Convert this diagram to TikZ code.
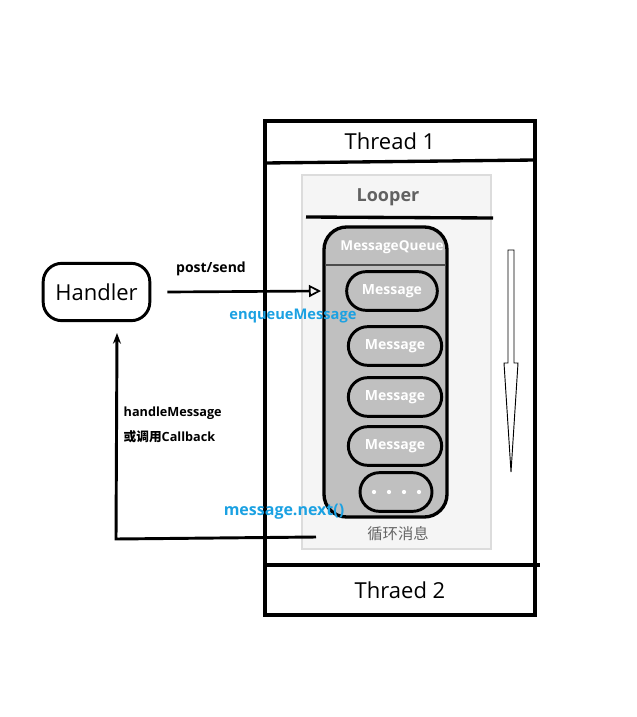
\documentclass[tikz,border=0pt]{standalone}
\usepackage{fontspec}
\setmainfont{Open Sans}
\newfontfamily\cjk{Noto Sans CJK SC}
\usetikzlibrary{arrows.meta}
\definecolor{linkblue}{HTML}{1BA1E2}
\definecolor{qgray}{HTML}{C0C0C0}
\definecolor{lbg}{HTML}{F5F5F5}
\definecolor{lborder}{HTML}{DCDCDC}
\tikzset{
  thick line/.style={line width=2.5pt},
  msgbox/.style={draw, line width=2.2pt, fill=qgray, rounded corners=14.5pt, minimum width=68pt, minimum height=29pt, inner sep=0pt, text=white, font=\bfseries\fontsize{10.5}{12}\selectfont},
  blue label/.style={text=linkblue, font=\bfseries\fontsize{11}{13}\selectfont},
  black label/.style={font=\bfseries\fontsize{9.5}{11}\selectfont},
}
\begin{document}
\begin{tikzpicture}[x=0.75pt,y=-0.75pt]
\useasboundingbox (0,0) rectangle (636,717);
% Thread box
\draw[thick line] (265,121) rectangle (535,615);
\coordinate (t1l) at (265,163);
\coordinate (t1r) at (535,160);
\draw[thick line] (t1l) -- (t1r);
\coordinate (t2l) at (265,565);
\coordinate (t2r) at (540,565);
\draw[thick line] (t2l) -- (t2r);
\node (thread1) at (390,141) {\fontsize{16.5}{19}\selectfont Thread 1};
\node (thread2) at (400,590) {\fontsize{16.5}{19}\selectfont Thraed 2};
% Looper
\draw[lborder, fill=lbg, line width=2pt] (302,175) rectangle (491,549);
\node[text=black!62, font=\bfseries\fontsize{13.5}{15}\selectfont] (looper) at (388,197) {Looper};
\coordinate (lpl) at (306,217);
\coordinate (lpr) at (493,218);
\draw[thick line] (lpl) -- (lpr);
% MessageQueue
\draw[line width=2.5pt, fill=qgray, rounded corners=17pt] (324,227) rectangle (447,517);
\node[text=white, font=\bfseries\fontsize{10.2}{12}\selectfont] (mq) at (392,247) {MessageQueue};
\draw[black!70, line width=0.8pt] (325,265) -- (446,265);
\node[msgbox] (m1) at (392,291) {Message};
\node[msgbox, minimum width=70pt] (m2) at (395,346) {Message};
\node[msgbox, minimum width=70pt] (m3) at (395,397) {Message};
\node[msgbox, minimum width=70pt] (m4) at (395,446) {Message};
\node[msgbox, minimum width=54pt] (m5) at (396,492) {};
\foreach \i/\xx in {1/374,2/389,3/404,4/419}
  \fill[white] (\xx,492) circle (1.6pt);
\node[text=black!60, font=\cjk\fontsize{11.5}{13}\selectfont] (loopmsg) at (398,534) {循环消息};
% long hollow down arrow
\draw[line width=0.7pt, fill=white] (508,250) -- (514,250) -- (514,363) -- (518,363) -- (511,472) -- (504,363) -- (508,363) -- cycle;
% Handler
\node[draw, line width=2.2pt, rounded corners=14pt, minimum width=80pt, minimum height=43pt, font=\fontsize{16.5}{19}\selectfont] (handler) at (96.5,292) {Handler};
% post/send arrow
\coordinate (sendend) at (321,291);
\draw[line width=2pt, -{Triangle[open, length=9pt, width=9pt, line width=1.3pt]}] (handler.east) ++(12pt,0) -- (sendend);
\node[black label, font=\bfseries\fontsize{10.5}{12}\selectfont] (post) at (211,269) {post/send};
\node[blue label] (enq) at (293,316) {enqueueMessage};
% return path
\coordinate (r0) at (316,537);
\coordinate (r1) at (116,539);
\coordinate (r2) at (117,333);
\draw[line width=2.2pt, -{Stealth[length=8pt, width=6pt]}] (r0) -- (r1) -- (r2);
\node[black label, anchor=west] (hm) at (119,413) {handleMessage};
\node[black label, anchor=west] (cb) at (119,437) {{\cjk 或调用}Callback};
\node[blue label, font=\bfseries\fontsize{12}{14}\selectfont] (next) at (284,512) {message.next()};
\end{tikzpicture}
\end{document}
